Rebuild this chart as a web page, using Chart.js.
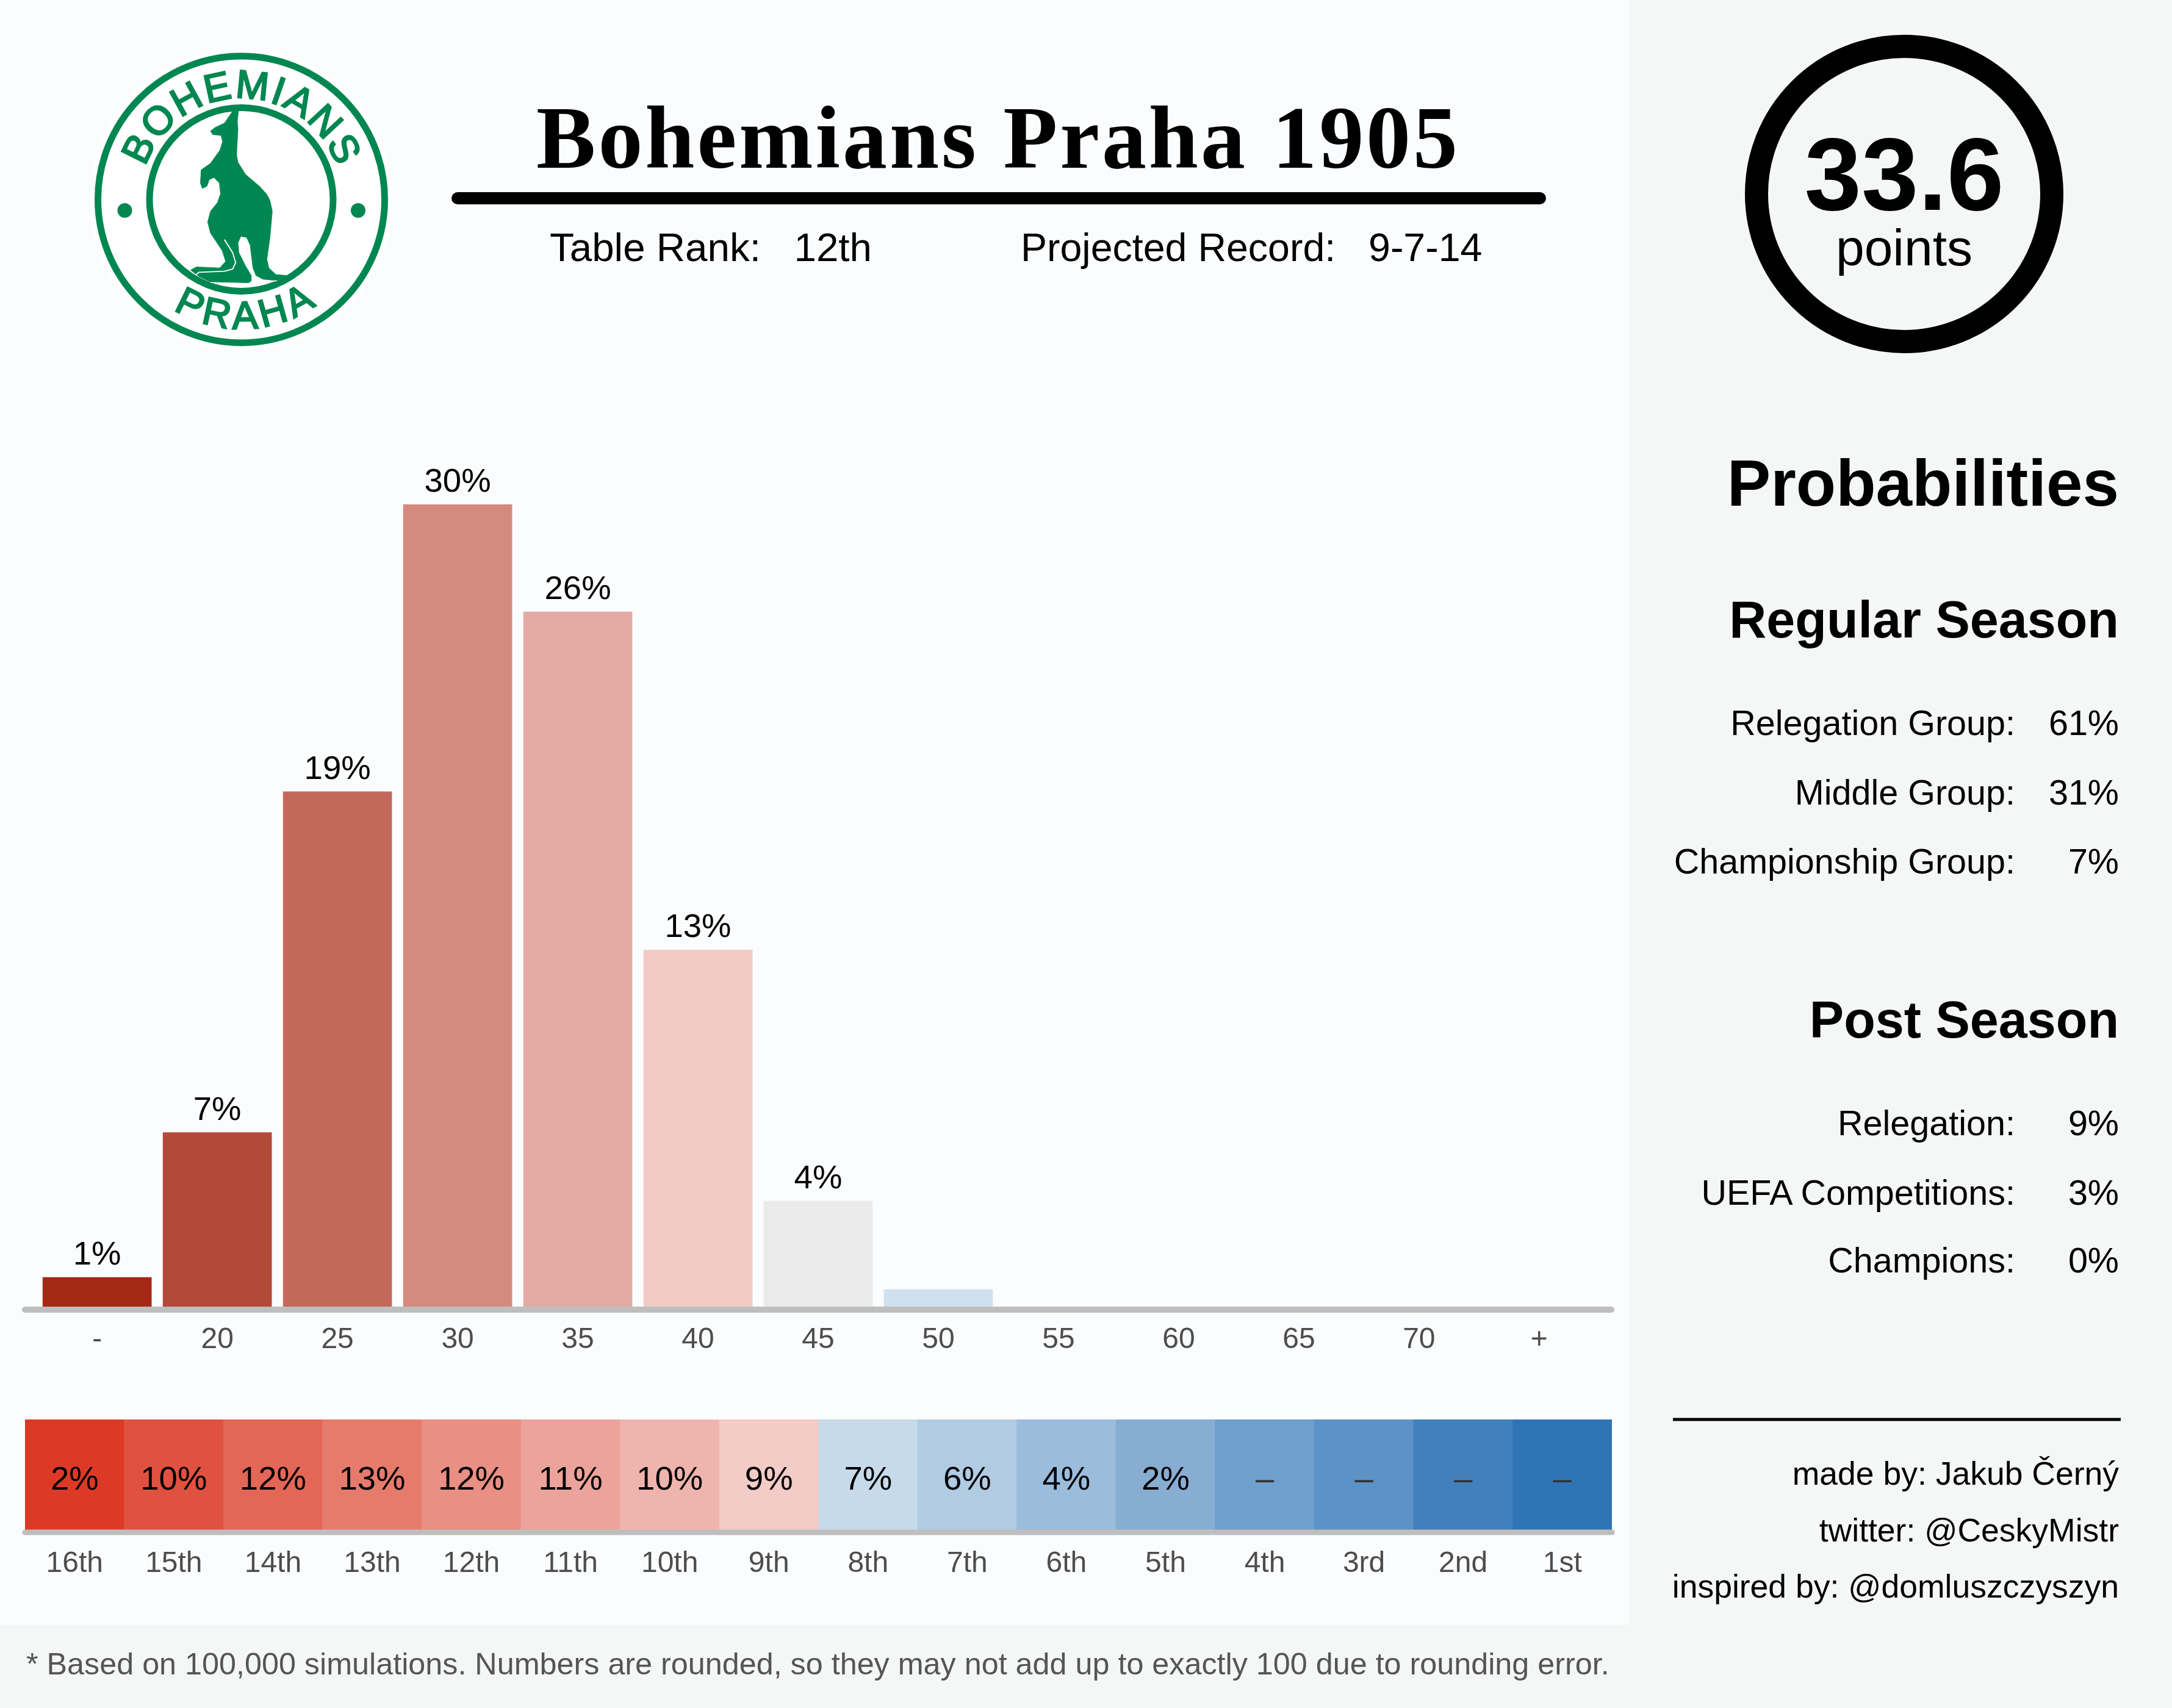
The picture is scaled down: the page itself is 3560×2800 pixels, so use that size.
<!DOCTYPE html>
<html>
<head>
<meta charset="utf-8">
<script src="https://cdn.jsdelivr.net/npm/chart.js@4"></script>
<style>
    html, body { margin: 0; padding: 0; background: #f5f7f6; }
    #pagina { position: relative; width: 3560px; height: 2800px; overflow: hidden; font-family: "Liberation Sans", Arial, sans-serif; color: #000; }
    #panel { position: absolute; left: 0; top: 0; width: 2670px; height: 2664px; background: #fbfcfe; }
    canvas { position: absolute; left: 0; }
    #canvasPuntos { top: 739px; }
    #canvasPuesto { top: 2300px; }
    .t { position: absolute; white-space: pre; line-height: 0; }
    .der { text-align: right; }
    svg { position: absolute; left: 0; top: 0; }
</style>
</head>
<body>
<div id="pagina">
    <div id="panel"></div>
    <svg width="1000" height="640" viewBox="0 0 1000 640">
        <defs>
            <path id="arcoArriba" d="M 229.5 327 A 166 166 0 0 1 561.5 327"/>
            <path id="arcoAbajo" d="M 183.5 327 A 212 212 0 0 0 607.5 327"/>
        </defs>
        <circle cx="395.5" cy="327" r="248" fill="#fff"/>
        <circle cx="395.5" cy="327" r="235" fill="none" stroke="#008751" stroke-width="11"/>
        <circle cx="395.5" cy="327" r="150.5" fill="none" stroke="#008751" stroke-width="11"/>
        <circle cx="204.5" cy="345" r="12" fill="#008751"/>
        <circle cx="587" cy="345" r="12" fill="#008751"/>
        <text font-family="Liberation Sans" font-size="65" fill="#008751" stroke="#008751" stroke-width="2.5" text-anchor="middle">
            <textPath href="#arcoArriba" startOffset="50%" textLength="412" lengthAdjust="spacing">BOHEMIANS</textPath>
        </text>
        <text font-family="Liberation Sans" font-size="64" fill="#008751" stroke="#008751" stroke-width="2.5" text-anchor="middle">
            <textPath href="#arcoAbajo" startOffset="51%" textLength="248" lengthAdjust="spacing">PRAHA</textPath>
        </text>
        <g transform="translate(100 50) scale(0.3827 0.3571)">
            <path fill="#008751" stroke="#008751" stroke-width="2" stroke-linejoin="round" d="M760 370 L755 420 L758 450 L752 570 L758 605 L790 660 L850 715 L880 750 L895 780 L905 830 L895 950 L882 1050 L890 1090 L920 1120 L970 1125 L925 1148 L865 1142 L835 1125 L822 1090 L815 1030 L810 985 L795 950 L770 945 L758 975 L762 1020 L790 1080 L815 1125 L815 1150 L800 1160 L640 1155 L592 1130 L555 1100 L580 1085 L680 1090 L705 1060 L690 1010 L640 930 L628 880 L640 830 L670 790 L683 750 L678 700 L655 675 L635 685 L625 715 L605 725 L597 700 L600 640 L640 610 L680 550 L692 510 L685 482 L650 478 L640 462 L660 445 L700 425 L735 370 Z"/>
            <path fill="none" stroke="#fff" stroke-width="5" stroke-linejoin="round" d="M700 960 L735 1020 L748 1065 L735 1095 L700 1105 L590 1110 L578 1122"/>
            <path fill="none" stroke="#fff" stroke-width="4" d="M640 1157 L805 1161 L925 1149"/>
        </g>
    </svg>

    <div class="t" style="left:0;width:3272px;top:226px;text-align:center;font:bold 146px 'Liberation Serif';line-height:0;letter-spacing:3.9px;">Bohemians Praha 1905</div>
    <svg width="3560" height="2800" viewBox="0 0 3560 2800">
        <line x1="750" y1="325" x2="2524" y2="325" stroke="#000" stroke-width="20" stroke-linecap="round"/>
        <circle cx="3121" cy="318" r="242" fill="none" stroke="#000" stroke-width="38"/>
        <line x1="2742" y1="2327" x2="3476" y2="2327" stroke="#000" stroke-width="5"/>
    </svg>
    <div class="t" style="left:901px;top:406px;font-size:65.5px;">Table Rank:   12th</div>
    <div class="t" style="left:1673px;top:406px;font-size:64.5px;">Projected Record:   9-7-14</div>
    <div class="t" style="left:2621px;width:1000px;text-align:center;top:286px;font:bold 168px 'Liberation Sans';line-height:0;">33.6</div>
    <div class="t" style="left:2621px;width:1000px;text-align:center;top:406px;font-size:84px;">points</div>

    <div class="t der" style="right:87px;top:792px;font:bold 107px 'Liberation Sans';line-height:0;">Probabilities</div>
    <div class="t der" style="right:87px;top:1016px;font:bold 84.5px 'Liberation Sans';line-height:0;">Regular Season</div>
    <div class="t der" style="right:257px;top:1185px;font-size:57.5px;">Relegation Group:</div>
    <div class="t der" style="right:87px;top:1185px;font-size:57.5px;">61%</div>
    <div class="t der" style="right:257px;top:1299px;font-size:57.5px;">Middle Group:</div>
    <div class="t der" style="right:87px;top:1299px;font-size:57.5px;">31%</div>
    <div class="t der" style="right:257px;top:1412px;font-size:57.5px;">Championship Group:</div>
    <div class="t der" style="right:87px;top:1412px;font-size:57.5px;">7%</div>
    <div class="t der" style="right:87px;top:1672px;font:bold 84.5px 'Liberation Sans';line-height:0;">Post Season</div>
    <div class="t der" style="right:257px;top:1841px;font-size:57.5px;">Relegation:</div>
    <div class="t der" style="right:87px;top:1841px;font-size:57.5px;">9%</div>
    <div class="t der" style="right:257px;top:1955px;font-size:57.5px;">UEFA Competitions:</div>
    <div class="t der" style="right:87px;top:1955px;font-size:57.5px;">3%</div>
    <div class="t der" style="right:257px;top:2066px;font-size:57.5px;">Champions:</div>
    <div class="t der" style="right:87px;top:2066px;font-size:57.5px;">0%</div>
    <div class="t der" style="right:87px;top:2416px;font-size:53.5px;">made by: Jakub Černý</div>
    <div class="t der" style="right:87px;top:2509px;font-size:53.5px;">twitter: @CeskyMistr</div>
    <div class="t der" style="right:87px;top:2601px;font-size:53.5px;">inspired by: @domluszczyszyn</div>
    <div class="t" style="left:43px;top:2728px;font-size:50.3px;color:#555;">* Based on 100,000 simulations. Numbers are rounded, so they may not add up to exactly 100 due to rounding error.</div>

    <canvas id="canvasPuntos" width="2670" height="1521"></canvas>
    <canvas id="canvasPuesto" width="2670" height="320"></canvas>
</div>
<script>
Chart.defaults.font.family = "'Liberation Sans', Arial, sans-serif";
Chart.defaults.animation = false;
Chart.defaults.responsive = false;

// Distribución de puntos
const etiquetasPuntos = ["-", "20", "25", "30", "35", "40", "45", "50", "55", "60", "65", "70", "+"];
const porcentajesPuntos = [1.2, 6.6, 19.3, 30, 26, 13.4, 4.05, 0.75, 0, 0, 0, 0, 0];
const coloresPuntos = ["#a52815", "#b34a39", "#c3695c", "#d38b7f", "#e3aba4", "#f2cbc6", "#ebebeb", "#cfe0ef", "#bbd3ea", "#a6c5e2", "#90b7da", "#7aa8d2", "#6399ca"];

// Puesto final en la tabla
const etiquetasPuesto = ["16th", "15th", "14th", "13th", "12th", "11th", "10th", "9th", "8th", "7th", "6th", "5th", "4th", "3rd", "2nd", "1st"];
const porcentajesPuesto = ["2%", "10%", "12%", "13%", "12%", "11%", "10%", "9%", "7%", "6%", "4%", "2%", "–", "–", "–", "–"];
const coloresPuesto = ["#dc3a26", "#e0513f", "#e46656", "#e67b6c", "#e98f84", "#eca39b", "#f0b4af", "#f3cbc7", "#c7daea", "#b1cbe3", "#9bbcdb", "#88add3", "#6f9fcc", "#5c92c5", "#4380bb", "#2f74b5"];
const alturaCelda = etiquetasPuesto.map(() => 1);

const COLOR_EJE = "#bebebe";

function dibujarEje(chart, grosor) {
    const { ctx, chartArea } = chart;
    ctx.save();
    ctx.strokeStyle = COLOR_EJE;
    ctx.lineWidth = grosor;
    ctx.lineCap = "round";
    ctx.beginPath();
    ctx.moveTo(chartArea.left, chartArea.bottom);
    ctx.lineTo(chartArea.right, chartArea.bottom);
    ctx.stroke();
    ctx.restore();
}

const pluginPuntos = {
    id: "pluginPuntos",
    afterDatasetsDraw(chart) {
        const { ctx } = chart;
        dibujarEje(chart, 10);
        ctx.save();
        ctx.fillStyle = "#000";
        ctx.font = "54.5px 'Liberation Sans'";
        ctx.textAlign = "center";
        ctx.textBaseline = "alphabetic";
        chart.getDatasetMeta(0).data.forEach((barra, i) => {
            const valor = porcentajesPuntos[i];
            if (valor >= 1) {
                ctx.fillText(Math.round(valor) + "%", barra.x, barra.y - 21);
            }
        });
        ctx.restore();
    }
};

const pluginPuesto = {
    id: "pluginPuesto",
    afterDatasetsDraw(chart) {
        const { ctx, chartArea } = chart;
        dibujarEje(chart, 9);
        ctx.save();
        ctx.font = "54.5px 'Liberation Sans'";
        ctx.textAlign = "center";
        ctx.textBaseline = "alphabetic";
        chart.getDatasetMeta(0).data.forEach((celda, i) => {
            ctx.fillStyle = porcentajesPuesto[i] === "–" ? "#333" : "#000";
            ctx.fillText(porcentajesPuesto[i], celda.x, (chartArea.top + chartArea.bottom) / 2 + 22);
        });
        ctx.restore();
    }
};

new Chart(document.getElementById("canvasPuntos"), {
    type: "bar",
    data: {
        datasets: [{
            data: porcentajesPuntos.map((valor, i) => ({ x: i + 1, y: valor })),
            backgroundColor: coloresPuntos,
            barThickness: 178
        }]
    },
    options: {
        layout: { padding: { left: 41, right: 29, top: 0, bottom: 0 } },
        plugins: { legend: { display: false }, tooltip: { enabled: false } },
        scales: {
            x: {
                type: "linear",
                offset: false,
                min: 0.4,
                max: 13.6,
                afterBuildTicks: escala => { escala.ticks = etiquetasPuntos.map((_, i) => ({ value: i + 1 })); },
                afterFit: escala => { escala.height = 113; },
                grid: { display: false },
                border: { display: false },
                ticks: {
                    autoSkip: false,
                    maxRotation: 0,
                    padding: 13,
                    color: "#4d4d4d",
                    font: { size: 48 },
                    callback: valor => etiquetasPuntos[valor - 1]
                }
            },
            y: { display: false, min: 0, max: 32 }
        }
    },
    plugins: [pluginPuntos]
});

new Chart(document.getElementById("canvasPuesto"), {
    type: "bar",
    data: {
        labels: etiquetasPuesto,
        datasets: [{
            data: alturaCelda,
            backgroundColor: coloresPuesto,
            barPercentage: 1,
            categoryPercentage: 1
        }]
    },
    options: {
        layout: { padding: { left: 41, right: 28, top: 27, bottom: 0 } },
        plugins: { legend: { display: false }, tooltip: { enabled: false } },
        scales: {
            x: {
                afterFit: escala => { escala.height = 108; },
                grid: { display: false },
                border: { display: false },
                ticks: {
                    autoSkip: false,
                    maxRotation: 0,
                    padding: 15,
                    color: "#4d4d4d",
                    font: { size: 48 }
                }
            },
            y: { display: false, min: 0, max: 1 }
        }
    },
    plugins: [pluginPuesto]
});
</script>
</body>
</html>
